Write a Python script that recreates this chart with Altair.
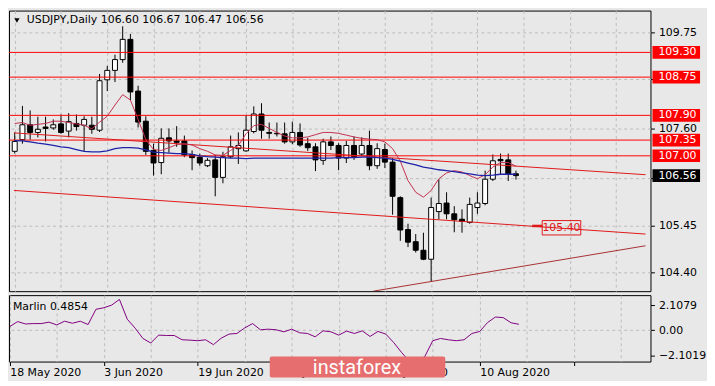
import json
import altair as alt
import pandas as pd

# ---------------- data ----------------
bar_index = list(range(66))
opens = [107.10, 107.36, 107.69, 107.52, 107.64, 107.62, 107.71, 107.55, 107.72, 107.68,
         107.68, 107.57, 108.69, 108.90, 109.14, 109.59, 108.44, 107.77, 107.12, 106.85,
         107.40, 107.33, 107.33, 107.03, 106.97, 106.78, 106.91, 106.52, 106.98, 107.16,
         107.11, 107.54, 107.93, 107.52, 107.50, 107.49, 107.31, 107.52, 107.27, 107.20,
         106.90, 107.31, 107.23, 106.95, 107.23, 107.04, 107.23, 106.78, 107.14, 106.86,
         106.07, 105.36, 105.09, 104.90, 104.70, 105.76, 105.95, 105.71, 105.59, 105.52,
         105.85, 105.94, 106.48, 106.92, 106.91, 106.60]
highs = [107.52, 108.11, 108.01, 107.87, 107.87, 107.81, 107.92, 107.95, 107.92, 107.88,
         107.87, 108.82, 109.00, 109.25, 109.88, 109.71, 108.56, 107.88, 107.27, 107.61,
         107.61, 107.66, 107.45, 107.12, 107.05, 106.95, 107.02, 107.09, 107.45, 107.52,
         107.90, 108.10, 108.17, 107.74, 107.74, 107.74, 107.76, 107.72, 107.40, 107.28,
         107.38, 107.43, 107.28, 107.33, 107.43, 107.41, 107.56, 107.28, 107.27, 106.95,
         106.10, 105.49, 105.26, 105.29, 106.07, 106.48, 106.19, 105.88, 105.81, 106.07,
         106.19, 106.67, 107.03, 107.05, 107.05, 106.67]
lows = [107.05, 107.27, 107.36, 107.41, 107.32, 107.58, 107.49, 107.41, 107.56, 107.10,
        107.49, 107.53, 108.44, 108.64, 109.07, 108.24, 107.63, 107.02, 106.56, 106.59,
        107.07, 107.20, 106.97, 106.68, 106.78, 106.75, 106.10, 106.39, 106.95, 106.82,
        107.09, 107.50, 107.38, 107.38, 107.43, 107.27, 107.26, 107.20, 107.11, 106.66,
        106.80, 107.13, 106.68, 106.84, 106.91, 107.00, 106.68, 106.71, 106.73, 105.69,
        105.11, 104.97, 104.85, 104.68, 104.20, 105.59, 105.59, 105.30, 105.29, 105.49,
        105.71, 105.90, 106.44, 106.59, 106.44, 106.47]
closes = [107.32, 107.69, 107.52, 107.59, 107.61, 107.69, 107.52, 107.76, 107.65, 107.81,
          107.59, 108.67, 108.90, 109.14, 109.59, 108.42, 107.75, 107.10, 106.84, 107.39,
          107.33, 107.30, 107.02, 106.96, 106.84, 106.90, 106.52, 106.98, 107.20, 107.23,
          107.57, 107.93, 107.57, 107.50, 107.49, 107.31, 107.52, 107.24, 107.18, 106.91,
          107.31, 107.23, 106.95, 107.23, 106.98, 107.23, 106.78, 107.16, 106.86, 106.10,
          105.35, 105.08, 104.90, 104.70, 105.85, 105.94, 105.71, 105.58, 105.54, 105.92,
          105.95, 106.48, 106.89, 106.89, 106.59, 106.56]
ma_fast = [107.72, 107.74, 107.68, 107.70, 107.72, 107.77, 107.77, 107.74, 107.71, 107.68,
           107.60, 107.75, 107.88, 108.13, 108.36, 108.24, 107.81, 107.36, 107.14, 107.12,
           107.18, 107.25, 107.27, 107.24, 107.16, 107.10, 107.02, 107.01, 107.12, 107.23,
           107.49, 107.67, 107.70, 107.61, 107.52, 107.44, 107.40, 107.40, 107.42, 107.47,
           107.52, 107.52, 107.50, 107.46, 107.42, 107.39, 107.37, 107.36, 107.31, 107.16,
           106.88, 106.45, 106.19, 106.08, 106.23, 106.49, 106.62, 106.67, 106.64, 106.56,
           106.49, 106.58, 106.75, 106.85, 106.85, 106.77]
ma_slow = [107.34, 107.33, 107.31, 107.28, 107.26, 107.23, 107.20, 107.18, 107.14, 107.10,
           107.09, 107.09, 107.11, 107.16, 107.18, 107.18, 107.17, 107.13, 107.08, 107.07,
           107.06, 107.05, 107.05, 107.03, 107.00, 106.98, 106.97, 106.96, 106.95, 106.95,
           106.94, 106.95, 106.95, 106.95, 106.95, 106.95, 106.95, 106.95, 106.95, 106.95,
           106.95, 106.95, 106.96, 106.96, 106.96, 106.97, 106.97, 106.96, 106.95, 106.92,
           106.88, 106.84, 106.80, 106.75, 106.72, 106.69, 106.67, 106.65, 106.62, 106.60,
           106.57, 106.56, 106.57, 106.59, 106.59, 106.59]
marlin = [0.30, 0.72, 0.52, 0.55, 0.55, 0.67, 0.44, 0.75, 0.58, 0.75,
          0.47, 1.75, 1.88, 2.10, 2.58, 0.92, 0.17, -0.70, -1.08, -0.42,
          -0.45, -0.45, -0.81, -0.84, -0.89, -0.81, -1.22, -0.67, -0.33, -0.28,
          0.19, 0.55, 0.03, 0.08, 0.03, -0.14, 0.08, -0.22, -0.28, -0.56,
          -0.06, -0.14, -0.42, -0.08, -0.28, -0.06, -0.53, -0.11, -0.33, -1.03,
          -1.86, -2.60, -2.70, -2.20, -0.89, -0.70, -0.81, -0.89, -0.81, -0.28,
          -0.11, 0.64, 1.10, 1.05, 0.62, 0.49]
marlin_now = "0.4854"

date_labels = ["18 May 2020", "3 Jun 2020", "19 Jun 2020", "7 Jul 2020", "23 Jul 2020", "10 Aug 2020"]
price_ticks = [104.40, 105.45, 106.50, 107.60, 108.70, 109.75]
hidden_price_ticks = [106.50, 108.70]   # covered by the price boxes in the reference
marlin_ticks = [2.1079, 0.0, -2.1019]
level_prices = [109.30, 108.75, 107.90, 107.35, 107.00]

trend_upper_x = [-0.1, 81.8]
trend_upper_y = [107.51, 106.58]
trend_lower_x = [-0.1, 81.8]
trend_lower_y = [106.23, 105.26]
trend_rise_x = [46.5, 81.8]
trend_rise_y = [103.99, 105.00]
tag_price = 105.40
tag_x = [68.4, 73.4]
tag_arrow_x = [67.1, 68.4]
tag_arrow_y = 105.44

symbol = "USDJPY,Daily"
brand = "instaforex"

# ---------------- layout / style ----------------
W, HM, HI = 647, 283, 67
XDOM = [-0.1, 81.8]
YDOM = [103.99, 110.23]
MDOM = [-2.64, 2.94]
FONT = "DejaVu Sans"
GRID = "#bcbcbc"
RED = "#ff0000"
BG = "#e8e8e8"
grid_idx = list(range(0, 82, 6))

df = pd.DataFrame({"i": bar_index, "o": opens, "h": highs, "l": lows, "c": closes,
                   "fast": ma_fast, "slow": ma_slow, "m": marlin})
df["dir"] = ["up" if c >= o else "down" for o, c in zip(opens, closes)]

xs = alt.Scale(domain=XDOM, nice=False, zero=False)
ys = alt.Scale(domain=YDOM, nice=False, zero=False)
ms = alt.Scale(domain=MDOM, nice=False, zero=False)

hidden_test = " || ".join(f"abs(datum.value - {v}) < 0.001" for v in hidden_price_ticks)
x_axis_main = alt.Axis(values=grid_idx, labels=False, ticks=False, domain=False, grid=True,
                       gridDash=[3, 3], gridColor=GRID, title=None)
y_axis_main = alt.Axis(orient="right", values=price_ticks,
                       labelExpr=f"({hidden_test}) ? '' : format(datum.value, '.2f')",
                       tickSize=4, labelPadding=4, domain=False, grid=True, gridDash=[3, 3],
                       gridColor=GRID, title=None)


def XM(field="i:Q"):
    return alt.X(field, scale=xs, axis=x_axis_main)


def YM(field):
    return alt.Y(field, scale=ys, axis=y_axis_main)


base = alt.Chart(df)

wicks = base.mark_rule(color="black", strokeWidth=1).encode(x=XM(), y=YM("l:Q"), y2="h:Q")
bodies = base.mark_bar(size=5, stroke="black", strokeWidth=1).encode(
    x=XM(), y=YM("o:Q"), y2="c:Q",
    fill=alt.Fill("dir:N", scale=alt.Scale(domain=["up", "down"], range=["white", "black"]), legend=None))
fast_line = base.mark_line(color="#c3304f", strokeWidth=1, clip=True).encode(x=XM(), y=YM("fast:Q"))
slow_line = base.mark_line(color="#1e22a8", strokeWidth=1.3, clip=True).encode(x=XM(), y=YM("slow:Q"))

levels_df = pd.DataFrame({"p": level_prices})
levels = alt.Chart(levels_df).mark_rule(color=RED, strokeWidth=1).encode(y=YM("p:Q"))


def trend(xv, yv, color):
    d = pd.DataFrame({"i": xv, "p": yv})
    return alt.Chart(d).mark_line(color=color, strokeWidth=1, clip=True).encode(x=XM(), y=YM("p:Q"))


t_up = trend(trend_upper_x, trend_upper_y, "#e01818")
t_low = trend(trend_lower_x, trend_lower_y, "#e01818")
t_rise = trend(trend_rise_x, trend_rise_y, "#a83030")

tag_df = pd.DataFrame({"x1": [tag_x[0]], "x2": [tag_x[1]], "p": [tag_price],
                       "xm": [(tag_x[0] + tag_x[1]) / 2]})
tag_box = alt.Chart(tag_df).transform_calculate(
    y1="datum.p - 0.16", y2="datum.p + 0.16"
).mark_rect(fillOpacity=0, stroke="#e01818", strokeWidth=1).encode(
    x=XM("x1:Q"), x2="x2:Q", y=YM("y1:Q"), y2="y2:Q")
tag_text = alt.Chart(tag_df).mark_text(font=FONT, fontSize=11, color="#e01818", baseline="middle").encode(
    x=XM("xm:Q"), y=YM("p:Q"), text=alt.Text("p:Q", format=".2f"))
arrow_df = pd.DataFrame({"x1": [tag_arrow_x[0]], "x2": [tag_arrow_x[1]], "p": [tag_arrow_y]})
tag_arrow = alt.Chart(arrow_df).mark_rule(color="#e01818", strokeWidth=2.5).encode(
    x=XM("x1:Q"), x2="x2:Q", y=YM("p:Q"))

# right-hand price boxes
box_levels = alt.Chart(levels_df).transform_calculate(
    y1="datum.p - 0.14", y2="datum.p + 0.14"
).mark_rect(color=RED).encode(x=alt.value(W + 2), x2=alt.value(W + 50), y=YM("y1:Q"), y2="y2:Q")
box_levels_txt = alt.Chart(levels_df).mark_text(font=FONT, fontSize=11, color="white", align="left",
                                                baseline="middle").encode(
    x=alt.value(W + 8), y=YM("p:Q"), text=alt.Text("p:Q", format=".2f"))
cur_df = pd.DataFrame({"p": [closes[-1]]})
box_cur = alt.Chart(cur_df).transform_calculate(
    y1="datum.p - 0.14", y2="datum.p + 0.14"
).mark_rect(color="black").encode(x=alt.value(W + 2), x2=alt.value(W + 50), y=YM("y1:Q"), y2="y2:Q")
box_cur_txt = alt.Chart(cur_df).mark_text(font=FONT, fontSize=11, color="white", align="left",
                                          baseline="middle").encode(
    x=alt.value(W + 8), y=YM("p:Q"), text=alt.Text("p:Q", format=".2f"))

title_str = f"{symbol}  {opens[-1]:.2f} {highs[-1]:.2f} {lows[-1]:.2f} {closes[-1]:.2f}"
title_df = pd.DataFrame({"t": [title_str]})
title_txt = alt.Chart(title_df).mark_text(font=FONT, fontSize=11, color="black", align="left",
                                          baseline="middle").encode(
    x=alt.value(18), y=alt.value(10), text="t:N")
title_tri = alt.Chart(title_df).mark_point(shape="triangle-down", filled=True, color="black",
                                           size=28, opacity=1).encode(x=alt.value(8), y=alt.value(10))

main = alt.layer(
    wicks, bodies, levels, t_up, t_low, t_rise, fast_line, slow_line,
    tag_arrow, tag_box, tag_text, box_levels, box_cur, box_levels_txt, box_cur_txt,
    title_tri, title_txt
).properties(width=W, height=HM)

# ---------------- indicator panel ----------------
label_expr = f"datum.value % 12 === 0 ? {json.dumps(date_labels)}[datum.value / 12] : ''"
x_axis_ind = alt.Axis(values=grid_idx, labelExpr=label_expr, labelAlign="left", labelFlush=False,
                      labelOverlap=False, labelBound=False, tickSize=4, labelPadding=1,
                      tickOpacity={"condition": {"test": "datum.value % 12 === 0", "value": 1}, "value": 0},
                      domain=False, grid=True, gridDash=[3, 3], gridColor=GRID, title=None)
y_axis_ind = alt.Axis(orient="right", values=marlin_ticks,
                      labelExpr="datum.value === 0 ? '0.00' : format(datum.value, '.4f')",
                      tickSize=4, labelPadding=4, domain=False, grid=True, gridDash=[3, 3],
                      gridColor=GRID,
                      gridOpacity={"condition": {"test": "datum.value === 0", "value": 1}, "value": 0},
                      title=None)

marlin_line = base.mark_line(color="#800080", strokeWidth=1, clip=True).encode(
    x=alt.X("i:Q", scale=xs, axis=x_axis_ind), y=alt.Y("m:Q", scale=ms, axis=y_axis_ind))

ind_df = pd.DataFrame({"t": [f"Marlin {marlin_now}"], "b": [brand]})
marlin_txt = alt.Chart(ind_df).mark_text(font=FONT, fontSize=11, color="black", align="left",
                                         baseline="middle").encode(
    x=alt.value(4), y=alt.value(12), text="t:N")
wm_rect = alt.Chart(ind_df).mark_rect(color="#e66e6e", cornerRadius=2).encode(
    x=alt.value(263), x2=alt.value(440), y=alt.value(62), y2=alt.value(83))
wm_txt = alt.Chart(ind_df).mark_text(font="Roboto", fontSize=20, color="white", align="center",
                                     baseline="middle").encode(
    x=alt.value(351), y=alt.value(74), text="b:N")

ind = alt.layer(marlin_line, marlin_txt, wm_rect, wm_txt).properties(width=W, height=HI)

chart = alt.vconcat(main, ind, spacing=2).properties(
    padding=0, background=BG
).configure_view(
    stroke="black", strokeWidth=1
).configure_axis(
    labelFont=FONT, labelFontSize=11, labelColor="black", tickColor="black"
)

chart.save("out.html", embed_options={"renderer": "svg", "actions": False})
